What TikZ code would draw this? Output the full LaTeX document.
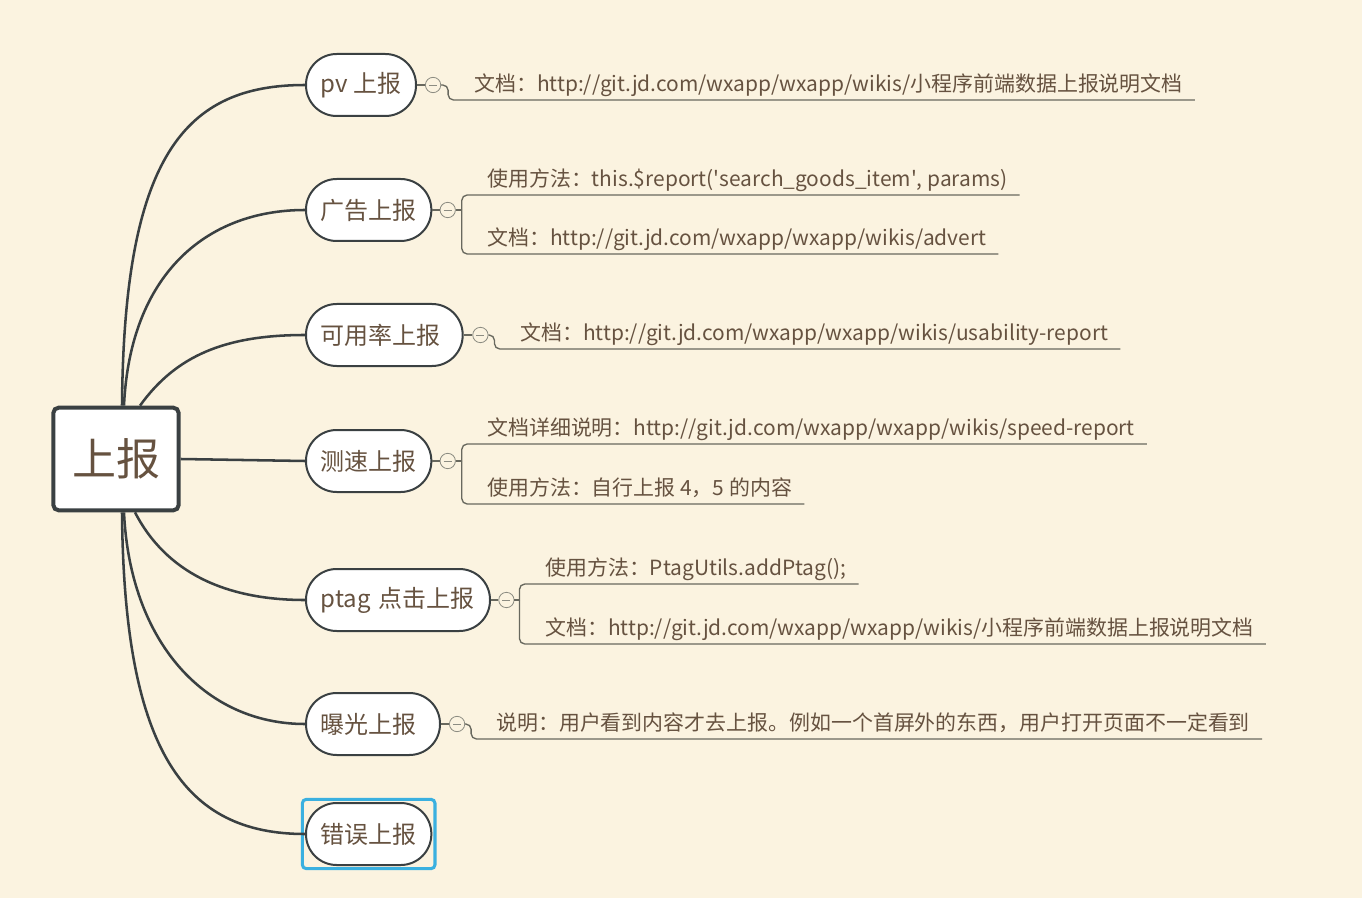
\documentclass[tikz,border=0pt]{standalone}
\usepackage{fontspec}
\setmainfont{Noto Sans CJK SC}
\usetikzlibrary{calc,positioning,fit}

\definecolor{paper}{RGB}{251,243,224}
\definecolor{ink}{RGB}{102,82,64}
\definecolor{darkline}{RGB}{58,64,66}
\definecolor{stemcol}{RGB}{104,104,94}
\definecolor{foldcol}{RGB}{140,140,130}
\definecolor{pickcol}{RGB}{58,176,224}

\begin{document}
\begin{tikzpicture}[x=0.75pt,y=-0.75pt,{rootbox/.style={rectangle,draw=darkline,line width=3pt,fill=white,rounded corners=4pt,minimum width=94pt,minimum height=77pt,text=ink,font=\fontsize{33}{36}\selectfont}},{topic/.style={rectangle,draw=darkline,line width=1.5pt,fill=white,rounded corners=23pt,minimum height=46.5pt,inner xsep=11pt,text=ink,font=\fontsize{18}{20}\selectfont}},{leaf/.style={inner xsep=9pt,inner ysep=3pt,text height=12pt,text depth=3pt,text=ink,font=\fontsize{15.7}{18}\selectfont}},{fold/.style={circle,draw=foldcol,line width=0.6pt,fill=paper,minimum size=11.5pt,inner sep=0pt}},{limb/.style={color=darkline,line width=1.9pt}},{stem/.style={color=stemcol,line width=1pt,rounded corners=4pt}},{pickbox/.style={rectangle,draw=pickcol,line width=2.3pt,rounded corners=3pt,inner sep=2pt}}]
	%%background
	\fill [paper] (0,0) rectangle (1362,898);
	\useasboundingbox (0,0) rectangle (1362,898);

	%%central topic
	\node [rootbox] (root) at (116,459) {上报};

	%%main topics
	\node [topic,anchor=west] (pv) at (305,85) {pv 上报};
	\node [topic,anchor=west] (ad) at (305,210) {广告上报};
	\node [topic,anchor=west,text width=95.5pt,align=left] (av) at (305,335) {可用率上报};
	\node [topic,anchor=west] (sp) at (305,461) {测速上报};
	\node [topic,anchor=west,text width=116pt,align=left] (pt) at (305,600) {ptag 点击上报};
	\node [topic,anchor=west,text width=78.5pt,align=left] (ex) at (305,724) {曝光上报};
	\node [topic,anchor=west] (err) at (305,834) {错误上报};
	\node [pickbox,fit=(err)] (errpick) {};

	%%branches from the centre
	\draw [limb] ($(root.north)+(6,0)$) .. controls ($(root.north)+(8,-250)$) and ($(pv.west)+(-120,0)$) .. (pv.west);
	\draw [limb] ($(root.north)+(8,0)$) .. controls ($(root.north)+(14,-130)$) and ($(ad.west)+(-100,0)$) .. (ad.west);
	\draw [limb] ($(root.north)+(24,0)$) .. controls ($(root.north)+(60,-50)$) and ($(av.west)+(-80,0)$) .. (av.west);
	\draw [limb] (root.east) -- (sp.west);
	\draw [limb] ($(root.south)+(19,0)$) .. controls ($(root.south)+(50,60)$) and ($(pt.west)+(-80,0)$) .. (pt.west);
	\draw [limb] ($(root.south)+(8,0)$) .. controls ($(root.south)+(14,130)$) and ($(ex.west)+(-100,0)$) .. (ex.west);
	\draw [limb] ($(root.south)+(6,0)$) .. controls ($(root.south)+(8,240)$) and ($(err.west)+(-120,0)$) .. (err.west);

	%%fold markers
	\node [fold,right=6pt of pv] (pvc) {};
	\node [fold,right=5.5pt of ad] (adc) {};
	\node [fold,right=6.5pt of av] (avc) {};
	\node [fold,right=5.5pt of sp] (spc) {};
	\node [fold,right=5.5pt of pt] (ptc) {};
	\node [fold,right=6pt of ex] (exc) {};
	\foreach \tp/\fm in {pv/pvc,ad/adc,av/avc,sp/spc,pt/ptc,ex/exc}{
		\draw [stem] (\tp.east) -- (\fm.west);
		\draw [foldcol,line width=0.6pt] ($(\fm.center)+(-4,0)$) -- ($(\fm.center)+(4,0)$);
	}

	%%details
	\node [leaf,anchor=south west] (pvdoc) at (462,100) {文档：http://git.jd.com/wxapp/wxapp/wikis/小程序前端数据上报说明文档};
	\node [leaf,anchor=south west] (aduse) at (475,195) {使用方法：this.\textdollar report(\textquotesingle search\_goods\_item\textquotesingle, params)};
	\node [leaf,anchor=south west] (addoc) at (475,254) {文档：http://git.jd.com/wxapp/wxapp/wikis/advert};
	\node [leaf,anchor=south west] (avdoc) at (508,349) {文档：http://git.jd.com/wxapp/wxapp/wikis/usability-report};
	\node [leaf,anchor=south west] (spdoc) at (475,444) {文档详细说明：http://git.jd.com/wxapp/wxapp/wikis/speed-report};
	\node [leaf,anchor=south west] (spuse) at (475,504) {使用方法：自行上报 4，5 的内容};
	\node [leaf,anchor=south west] (ptuse) at (533,584) {使用方法：PtagUtils.addPtag();};
	\node [leaf,anchor=south west] (ptdoc) at (533,644) {文档：http://git.jd.com/wxapp/wxapp/wikis/小程序前端数据上报说明文档};
	\node [leaf,anchor=south west] (exnote) at (484,739) {说明：用户看到内容才去上报。例如一个首屏外的东西，用户打开页面不一定看到};

	%%underlines and brackets
	\draw [stem] (pvc.east) -- ++(7,0) |- (pvdoc.south west) -- (pvdoc.south east);
	\draw [stem] (avc.east) -- ++(6,0) |- (avdoc.south west) -- (avdoc.south east);
	\draw [stem] (exc.east) -- ++(6,0) |- (exnote.south west) -- (exnote.south east);
	\draw [stem] (adc.east) -- ++(6,0) coordinate (adk);
	\draw [stem] (adk) |- (aduse.south west) -- (aduse.south east);
	\draw [stem] (adk) |- (addoc.south west) -- (addoc.south east);
	\draw [stem] (spc.east) -- ++(6,0) coordinate (spk);
	\draw [stem] (spk) |- (spdoc.south west) -- (spdoc.south east);
	\draw [stem] (spk) |- (spuse.south west) -- (spuse.south east);
	\draw [stem] (ptc.east) -- ++(5,0) coordinate (ptk);
	\draw [stem] (ptk) |- (ptuse.south west) -- (ptuse.south east);
	\draw [stem] (ptk) |- (ptdoc.south west) -- (ptdoc.south east);
\end{tikzpicture}
\end{document}
